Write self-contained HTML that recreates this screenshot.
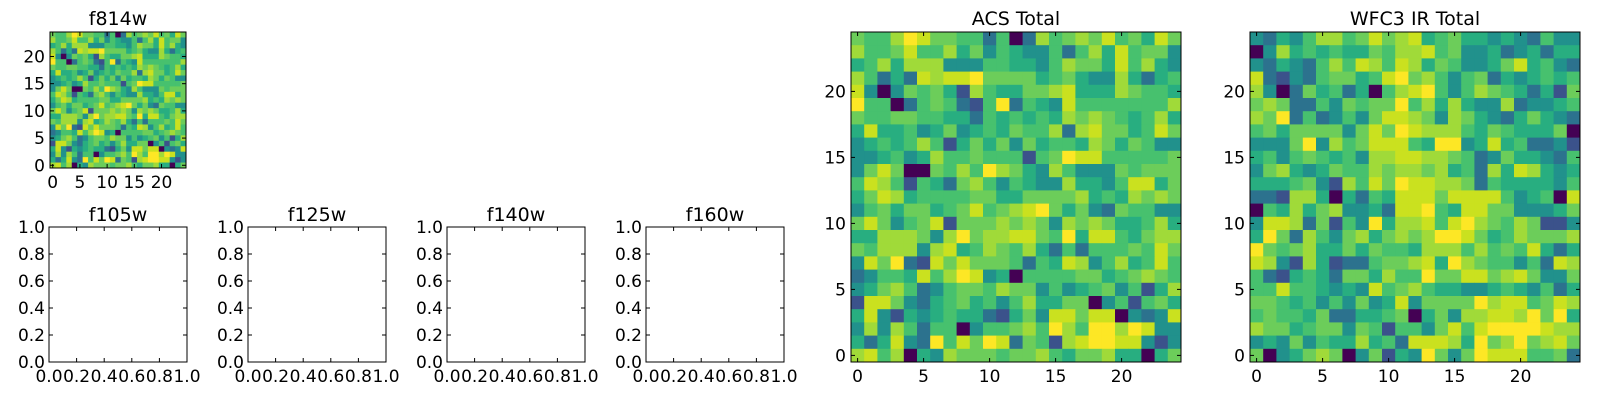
<!DOCTYPE html>
<html><head><meta charset="utf-8"><style>
html,body{margin:0;padding:0;background:#fff;}
svg text{font-family:"DejaVu Sans","Liberation Sans",sans-serif;fill:#000;}
</style></head>
<body>
<svg id="fig" width="1600" height="400" viewBox="0 0 1600 400" xmlns="http://www.w3.org/2000/svg"></svg>
<script>
// ACS Total image data (rows from y=24 at top down to y=0), levels 0..9
const acsRows = [
"6557986655250275676856486",
"7556855746354335257485663",
"4574777333554435766485743",
"7524287889666645643374245",
"8303656417544667844476554",
"9550256521592543855555557",
"6556655442545454767654574",
"4844534634546557278664586",
"3454575146463645547646533",
"3345347556555156988555556",
"3686006575976437533365666",
"5875154267535433744358846",
"4687455556644666674547676",
"3564664568567896463265533",
"6863568166676763767644574",
"4477763796778865948854677",
"6577737845765742525556586",
"3869218686665254873574585",
"2355485798340555566456765",
"3467523566576635345635147",
"1886324564535744660351564",
"4831434544214638868803238",
"3737525503556759759979833",
"4248329586982651789988313",
"7857043766656675466744046"
];
// WFC3 IR Total image data
const wfcRows = [
"3243577568678456443432533",
"0374545446577856334234244",
"3243257587587465334684532",
"8213256645896753562434545",
"7302645240578953576542416",
"6762253656695747433723345",
"7692523536887637643246432",
"5646666368698777546544460",
"3336937568885499348452231",
"4535654537788776523644325",
"3674346557677674527487434",
"4445631758698877625444435",
"2217740425488868888534508",
"0547467334288954886633346",
"3887261539477858976576113",
"4962753674676799864576667",
"9656744646554777575658424",
"8731741225667849765535287",
"5214542664755966886786336",
"5585543438567544334543524",
"6654535363483666697885687",
"5655462244560463778879694",
"7664566365155368589999877",
"3436354474528887496796786",
"6034676036143963698885562"
];
const xTicks = [0,5,10,15,20];
const yTicks = [0,5,10,15,20];
const unitTicks = [0.0,0.2,0.4,0.6,0.8,1.0];
const unitTickLabels = ["0.0","0.2","0.4","0.6","0.8","1.0"];
const emptyTitles = ["f105w","f125w","f140w","f160w"];

const NS="http://www.w3.org/2000/svg";
const svg=document.getElementById('fig');
const vir=["#440154","#3b528b","#2c728e","#21918c","#28ae80","#47c16e","#6ccd5a","#a0da39","#cae11f","#fde725"];
const TFS=17, HFS=19;
function mk(tag,attrs,parent){const e=document.createElementNS(NS,tag);for(const k in attrs)e.setAttribute(k,attrs[k]);(parent||svg).appendChild(e);return e;}
function txt(s,x,y,size,anchor,parent){const t=mk('text',{x:x,y:y,'font-size':size,'text-anchor':anchor},parent);t.textContent=s;return t;}

function imageAxes(name,title,rows,L,T,S){
  const g=mk('g',{});
  
  
  const n=rows.length;
  const sx=v=>L+(v+0.5)/n*S;
  const sy=v=>T+S-(v+0.5)/n*S;
  const cw=S/n;
  for(let r=0;r<n;r++){
    const yv=n-1-r;
    for(let c=0;c<n;c++){
      const lv=+rows[r][c];
      const rc=mk('rect',{x:sx(c)-cw/2,y:sy(yv)-cw/2,width:cw+0.4,height:cw+0.4,fill:vir[lv]},g);
      
      
    }
  }
  const fr=mk('rect',{x:L,y:T,width:S,height:S,fill:'none',stroke:'#000','stroke-width':1},g);
  
  
  xTicks.forEach(v=>{
    const x=sx(v);
    mk('line',{x1:x,y1:T+S,x2:x,y2:T+S-4,stroke:'#000'},g);
    mk('line',{x1:x,y1:T,x2:x,y2:T+4,stroke:'#000'},g);
    const t=txt(String(v),x,T+S+20,TFS,'middle',g);
    
    
  });
  yTicks.forEach(v=>{
    const y=sy(v);
    mk('line',{x1:L,y1:y,x2:L+4,y2:y,stroke:'#000'},g);
    mk('line',{x1:L+S,y1:y,x2:L+S-4,y2:y,stroke:'#000'},g);
    const t=txt(String(v),L-5,y+6,TFS,'end',g);
    
    
  });
  const tt=txt(title,L+S/2,T-7,HFS,'middle',g);
  
  
}

function emptyAxes(title,L,T,W,H){
  const g=mk('g',{});
  
  
  const sx=v=>L+v*W, sy=v=>T+H-v*H;
  const fr=mk('rect',{x:L,y:T,width:W,height:H,fill:'none',stroke:'#000','stroke-width':1},g);
  
  
  unitTicks.forEach((v,i)=>{
    const x=sx(v),y=sy(v);
    mk('line',{x1:x,y1:T+H,x2:x,y2:T+H-4,stroke:'#000'},g);
    mk('line',{x1:x,y1:T,x2:x,y2:T+4,stroke:'#000'},g);
    mk('line',{x1:L,y1:y,x2:L+4,y2:y,stroke:'#000'},g);
    mk('line',{x1:L+W,y1:y,x2:L+W-4,y2:y,stroke:'#000'},g);
    const tx=txt(unitTickLabels[i],x,T+H+20,TFS,'middle',g);
    
    
    const ty=txt(unitTickLabels[i],L-4,y+6,TFS,'end',g);
    
    
  });
  const tt=txt(title,L+W/2,T-6,HFS,'middle',g);
  
  
}

imageAxes('f814w-image','f814w',acsRows,50,32,136);
imageAxes('acs-total-image','ACS Total',acsRows,851,32,330);
imageAxes('wfc3-ir-total-image','WFC3 IR Total',wfcRows,1250,32,330);
emptyTitles.forEach((t,i)=>emptyAxes(t,49+i*199,227,138,135));
</script>
</body></html>
